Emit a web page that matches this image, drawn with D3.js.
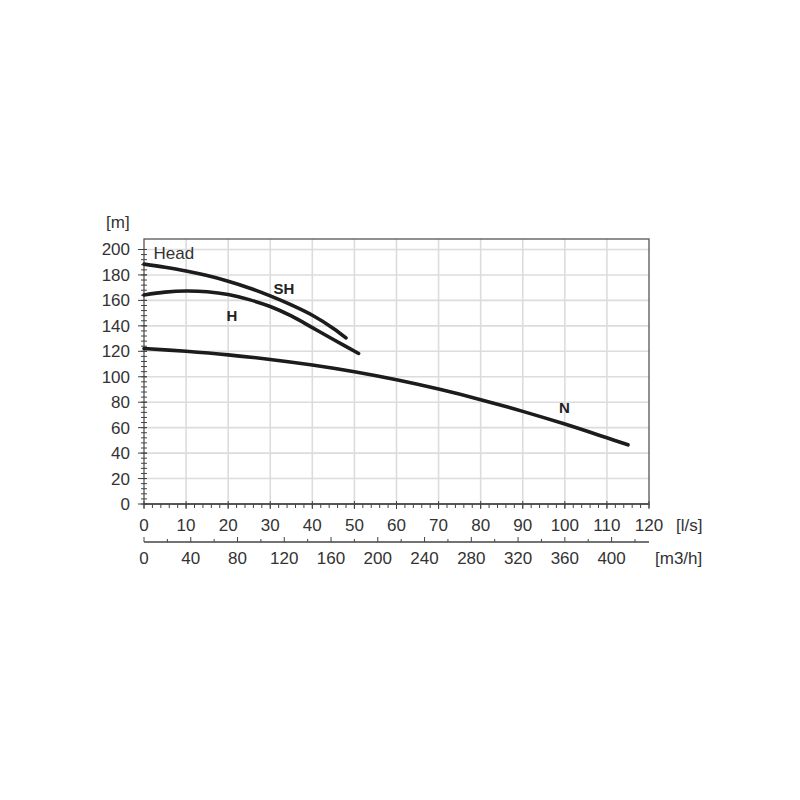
<!DOCTYPE html>
<html>
<head>
<meta charset="utf-8">
<script src="https://cdn.jsdelivr.net/npm/d3@7"></script>
<style>
	body { margin: 0; background: #fff; }
	svg { font-family: "Liberation Sans", Arial, sans-serif; }
</style>
</head>
<body>
<svg id="chart" width="800" height="800"></svg>
<script>
// pump curves, flow in l/s, head in m
var shFlow = [0, 5, 10, 15, 20, 25, 30, 35, 40, 45, 48];
var shHead = [188.5, 186.0, 183.1, 179.5, 175.1, 169.8, 163.5, 156.4, 148.3, 138.0, 130.5];
var hFlow = [0, 5, 10, 15, 20, 25, 30, 35, 40, 45, 51];
var hHead = [164.3, 166.5, 167.4, 166.8, 164.6, 160.6, 155.2, 147.8, 138.6, 129.3, 118.3];
var nFlow = [0, 10, 20, 30, 40, 50, 60, 70, 80, 90, 100, 110, 115];
var nHead = [122.2, 120.0, 117.2, 113.6, 109.2, 103.9, 97.6, 90.3, 82.0, 72.8, 62.8, 52.0, 46.5];

var curveNames = ["SH", "H", "N"];
var labelPos = [[30.8, 165], [19.6, 143.7], [98.6, 71.9]]; // where the curve name sits (l/s, m)

var headTicks = [0, 20, 40, 60, 80, 100, 120, 140, 160, 180, 200];
var lsTicks = [0, 10, 20, 30, 40, 50, 60, 70, 80, 90, 100, 110, 120];
var m3hTicks = [0, 40, 80, 120, 160, 200, 240, 280, 320, 360, 400];

var left = 144, right = 649, bottom = 504, top200 = 249.5, frameTop = 239;
var fs = 17;

var svg = d3.select("#chart");

var x = d3.scaleLinear().domain([0, 120]).range([left, right]);
var y = d3.scaleLinear().domain([0, 200]).range([bottom, top200]);
// second flow axis, m3/h = 3.6 * l/s
var x2 = d3.scaleLinear().domain([0, 120 * 3.6]).range([left, right]);

//grid
var grid = svg.append("g");
grid.selectAll(".vgrid")
	.data(lsTicks.slice(1, -1))
	.enter().append("line")
	.attr("x1", d => x(d)).attr("x2", d => x(d))
	.attr("y1", frameTop).attr("y2", bottom)
	.style("stroke", "#dcdcdc").style("stroke-width", 1.6);
grid.selectAll(".hgrid")
	.data(headTicks.slice(1))
	.enter().append("line")
	.attr("x1", left).attr("x2", right)
	.attr("y1", d => y(d)).attr("y2", d => y(d))
	.style("stroke", "#dcdcdc").style("stroke-width", 1.6);

//frame
svg.append("rect")
	.attr("x", left).attr("y", frameTop)
	.attr("width", right - left).attr("height", bottom - frameTop)
	.style("fill", "none").style("stroke", "#555").style("stroke-width", 1.3);

//left axis with cross ticks
var yAxis = svg.append("g").style("stroke", "#444").style("stroke-width", 1);
yAxis.selectAll(".minor")
	.data(d3.range(0, 201, 4))
	.enter().append("line")
	.attr("x1", left - 3).attr("x2", left + 3)
	.attr("y1", d => y(d)).attr("y2", d => y(d));
yAxis.selectAll(".major")
	.data(headTicks)
	.enter().append("line")
	.attr("x1", left - 6).attr("x2", left + 3)
	.attr("y1", d => y(d)).attr("y2", d => y(d));
svg.selectAll(".ylab")
	.data(headTicks)
	.enter().append("text")
	.attr("x", 130).attr("y", d => y(d))
	.attr("dy", "0.35em")
	.attr("text-anchor", "end")
	.attr("font-size", fs).attr("fill", "#333")
	.text(d => d);

//l/s axis
var xAxis = svg.append("g").style("stroke", "#444").style("stroke-width", 1);
xAxis.append("line").attr("x1", left).attr("x2", right).attr("y1", bottom).attr("y2", bottom).style("stroke-width", 1.5);
xAxis.selectAll(".minor")
	.data(d3.range(0, 121, 2))
	.enter().append("line")
	.attr("x1", d => x(d)).attr("x2", d => x(d))
	.attr("y1", bottom).attr("y2", bottom + 4);
xAxis.selectAll(".major")
	.data(lsTicks)
	.enter().append("line")
	.attr("x1", d => x(d)).attr("x2", d => x(d))
	.attr("y1", bottom - 3).attr("y2", bottom + 5);
svg.selectAll(".xlab")
	.data(lsTicks)
	.enter().append("text")
	.attr("x", d => x(d)).attr("y", 531)
	.attr("text-anchor", "middle")
	.attr("font-size", fs).attr("fill", "#333")
	.text(d => d);

//m3/h axis
var axis2Y = 542;
var x2Axis = svg.append("g").style("stroke", "#444").style("stroke-width", 1);
x2Axis.append("line").attr("x1", left).attr("x2", right).attr("y1", axis2Y).attr("y2", axis2Y).style("stroke-width", 1.5);
x2Axis.selectAll(".minor")
	.data(d3.range(20, 432, 40))
	.enter().append("line")
	.attr("x1", d => x2(d)).attr("x2", d => x2(d))
	.attr("y1", axis2Y).attr("y2", axis2Y - 3);
x2Axis.selectAll(".major")
	.data(m3hTicks)
	.enter().append("line")
	.attr("x1", d => x2(d)).attr("x2", d => x2(d))
	.attr("y1", axis2Y).attr("y2", axis2Y - 5);
svg.selectAll(".x2lab")
	.data(m3hTicks)
	.enter().append("text")
	.attr("x", d => x2(d)).attr("y", 564)
	.attr("text-anchor", "middle")
	.attr("font-size", fs).attr("fill", "#333")
	.text(d => d);

//units
svg.append("text").attr("x", 106).attr("y", 228).attr("font-size", fs).attr("fill", "#333").text("[m]");
svg.append("text").attr("x", 676).attr("y", 531).attr("font-size", fs).attr("fill", "#333").text("[l/s]");
svg.append("text").attr("x", 655).attr("y", 564).attr("font-size", fs).attr("fill", "#333").text("[m3/h]");
svg.append("text").attr("x", 153.5).attr("y", 258.5).attr("font-size", fs).attr("fill", "#333").text("Head");

//curves
var line = d3.line()
	.x(d => x(d[0]))
	.y(d => y(d[1]))
	.curve(d3.curveCatmullRom);

var series = [
	d3.zip(shFlow, shHead),
	d3.zip(hFlow, hHead),
	d3.zip(nFlow, nHead)
];

svg.selectAll(".pump")
	.data(series)
	.enter().append("path")
	.attr("class", "pump")
	.attr("d", line)
	.style("fill", "none")
	.style("stroke", "#1c1c1c")
	.style("stroke-width", 3.6)
	.style("stroke-linecap", "round");

svg.selectAll(".pumpname")
	.data(curveNames)
	.enter().append("text")
	.attr("x", (d, i) => x(labelPos[i][0]))
	.attr("y", (d, i) => y(labelPos[i][1]))
	.attr("font-size", 15)
	.attr("font-weight", "bold")
	.attr("fill", "#222")
	.text(d => d);
</script>
</body>
</html>
